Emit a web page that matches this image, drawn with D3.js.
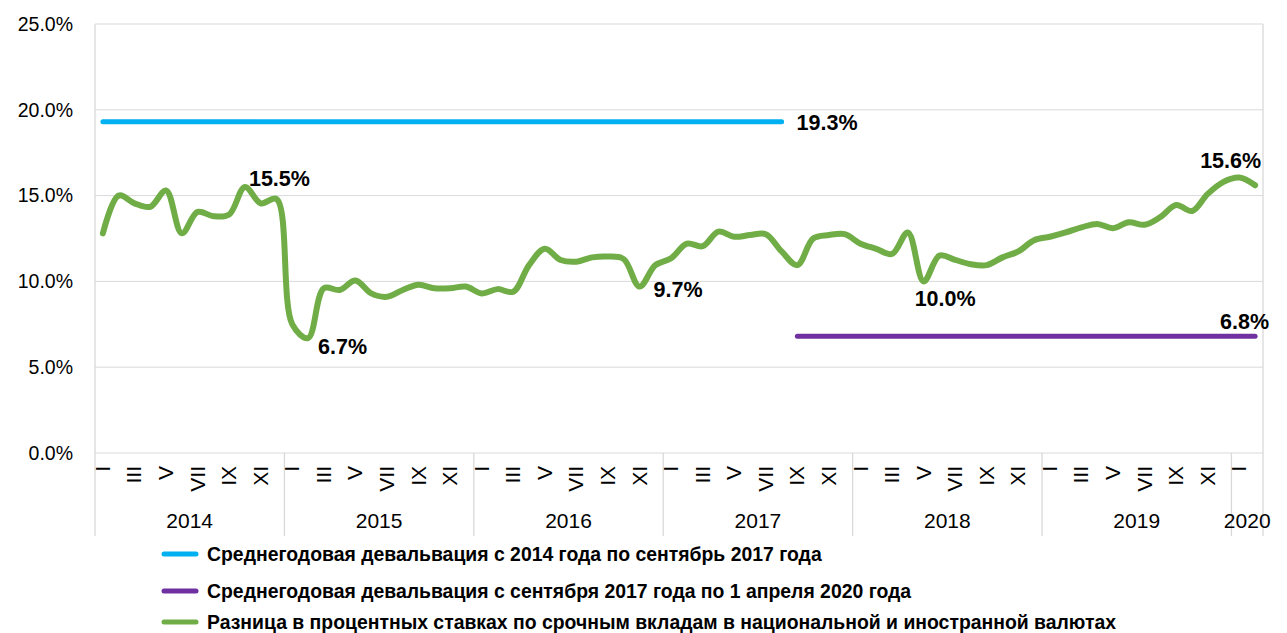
<!DOCTYPE html>
<html lang="ru">
	<head>
		<meta charset="utf-8">
		<title>spread</title>
		<script type="text/javascript" src="https://cdn.jsdelivr.net/npm/d3@7"></script>
		<style>
			body { margin: 0; background: #fff; }
			text { font-family: "Liberation Sans", Arial, sans-serif; fill: #000; }
		</style>
	</head>
	<body>
		<script type="text/javascript">
			var width = 1287
			var height = 633

			// data
			var years = ["2014", "2015", "2016", "2017", "2018", "2019", "2020"]
			var monthTicks = ["I", "III", "V", "VII", "IX", "XI"]
			var monthsIn2020 = 2
			var yTicks = [0, 5, 10, 15, 20, 25]

			// green line, monthly, Jan 2014 .. Feb 2020
			var spread = [
				12.8, 15.0, 14.55, 14.35, 15.3, 12.8, 14.05, 13.8, 13.9, 15.5, 14.55, 14.8,
				7.5, 6.7, 9.6, 9.5, 10.05, 9.3, 9.1, 9.5, 9.8, 9.6, 9.6, 9.7,
				9.3, 9.55, 9.4, 10.95, 11.9, 11.25, 11.15, 11.4, 11.45, 11.3, 9.7, 10.95,
				11.35, 12.2, 12.05, 12.9, 12.6, 12.7, 12.75, 11.75, 10.95, 12.5, 12.7, 12.75,
				12.2, 11.9, 11.6, 12.85, 10.0, 11.5, 11.25, 11.0, 10.95, 11.4, 11.75, 12.4,
				12.6, 12.85, 13.15, 13.35, 13.1, 13.45, 13.3, 13.75, 14.45, 14.1, 15.1, 15.8,
				16.05, 15.6
			]
			var spreadLabelIdx = [9, 13, 34, 52, 73]

			// average devaluation lines
			var devalValues = [19.3, 6.8]
			var devalFrom = [0, 44]
			var devalTo = [43, 73]

			var legendNames = [
				"Среднегодовая девальвация с 2014 года по сентябрь 2017 года",
				"Среднегодовая девальвация с сентября 2017 года по 1 апреля 2020 года",
				"Разница в процентных ставках по срочным вкладам в национальной и иностранной валютах"
			]
			var colors = ["#00B0F0", "#7030A0", "#70AD47"]

			// categories (indexes of months)
			var cats = []
			years.forEach(function(yr, k) {
				var n = k == years.length - 1 ? monthsIn2020 : 12
				for (var m = 0; m < n; m++) cats.push({year: yr, m: m, i: cats.length})
			})

			var svg = d3.select("body").append("svg").attr("width", width).attr("height", height)

			var x = d3.scaleBand().domain(cats.map(function(d) { return d.i })).range([95, 1263]).padding(0)
			var y = d3.scaleLinear().domain([0, 25]).range([453, 24])
			var cx = function(i) { return x(i) + x.bandwidth() / 2 }

			// gridlines
			svg.append("g").selectAll("line").data(yTicks).enter().append("line")
				.attr("x1", 95).attr("x2", 1263)
				.attr("y1", function(d) { return y(d) }).attr("y2", function(d) { return y(d) })
				.attr("stroke", "#d9d9d9").attr("stroke-width", 1)

			// y axis labels
			svg.append("g").selectAll("text").data(yTicks).enter().append("text")
				.attr("x", 73).attr("y", function(d) { return y(d) })
				.attr("dy", "0.35em").attr("text-anchor", "end")
				.style("font-size", "19.5px")
				.text(function(d) { return d.toFixed(1) + "%" })

			// frame + year separators
			var sep = years.map(function(yr, k) { return x(k * 12) }).concat([1263])
			svg.append("g").selectAll("line").data(sep).enter().append("line")
				.attr("x1", function(d) { return d }).attr("x2", function(d) { return d })
				.attr("y1", function(d, k) { return (k == 0 || k == sep.length - 1) ? 24 : 453 })
				.attr("y2", 536)
				.attr("stroke", "#d9d9d9").attr("stroke-width", 1.3)

			// month ticks (rotated roman numerals)
			var monthCats = cats.filter(function(d) { return d.m % 2 == 0 })
			svg.append("g").selectAll("text").data(monthCats).enter().append("text")
				.attr("transform", function(d) { return "translate(" + (cx(d.i) + 7) + ",466) rotate(-90)" })
				.attr("text-anchor", "end")
				.style("font-size", "21px")
				.text(function(d) { return monthTicks[d.m / 2] })

			// year labels
			svg.append("g").selectAll("text").data(years).enter().append("text")
				.attr("x", function(d, k) { return (sep[k] + sep[k + 1]) / 2 })
				.attr("y", 528)
				.attr("text-anchor", "middle")
				.style("font-size", "21px")
				.text(function(d) { return d })

			// devaluation lines
			devalValues.forEach(function(v, k) {
				svg.append("line")
					.attr("x1", cx(devalFrom[k])).attr("x2", cx(devalTo[k]))
					.attr("y1", y(v)).attr("y2", y(v))
					.attr("stroke", colors[k]).attr("stroke-width", 5).attr("stroke-linecap", "round")
			})

			// spread line
			var line = d3.line()
				.x(function(d, i) { return cx(i) })
				.y(function(d) { return y(d) })
				.curve(d3.curveCatmullRom.alpha(0.5))
			svg.append("path").datum(spread)
				.attr("d", line)
				.attr("fill", "none").attr("stroke", colors[2]).attr("stroke-width", 6)
				.attr("stroke-linejoin", "round").attr("stroke-linecap", "round")

			// data labels
			var spreadOffsets = {9: [4, -1, "start"], 13: [10, 16, "start"], 34: [14, 10, "start"], 52: [-9, 25, "start"], 73: [6, -17, "end"]}
			svg.append("g").selectAll("text").data(spreadLabelIdx).enter().append("text")
				.attr("x", function(i) { return cx(i) + spreadOffsets[i][0] })
				.attr("y", function(i) { return y(spread[i]) + spreadOffsets[i][1] })
				.attr("text-anchor", function(i) { return spreadOffsets[i][2] })
				.style("font-size", "21.5px").style("font-weight", "bold")
				.text(function(i) { return spread[i].toFixed(1) + "%" })

			var devalOffsets = [[15, 8, "start"], [14, -7, "end"]]
			svg.append("g").selectAll("text").data(devalValues).enter().append("text")
				.attr("x", function(d, k) { return cx(devalTo[k]) + devalOffsets[k][0] })
				.attr("y", function(d) { return y(d) })
				.attr("dy", function(d, k) { return devalOffsets[k][1] })
				.attr("text-anchor", function(d, k) { return devalOffsets[k][2] })
				.style("font-size", "21.5px").style("font-weight", "bold")
				.text(function(d) { return d.toFixed(1) + "%" })

			// legend
			var legY = [554, 591, 622]
			var leg = svg.append("g").selectAll("g").data(legendNames).enter().append("g")
				.attr("transform", function(d, k) { return "translate(0," + legY[k] + ")" })
			leg.append("line").attr("x1", 164).attr("x2", 196)
				.attr("stroke", function(d, k) { return colors[k] }).attr("stroke-width", 5).attr("stroke-linecap", "round")
			leg.append("text").attr("x", 207).attr("dy", "0.35em")
				.style("font-size", "19.4px").style("font-weight", "bold")
				.text(function(d) { return d })
		</script>
	</body>
</html>
